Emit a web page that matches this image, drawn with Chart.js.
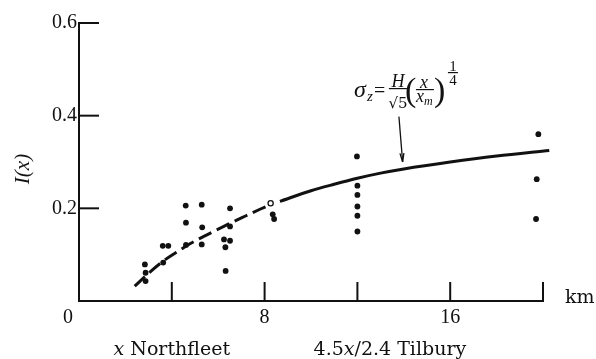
<!DOCTYPE html>
<html>
<head>
<meta charset="utf-8">
<script src="https://cdn.jsdelivr.net/npm/chart.js@4.4.1/dist/chart.umd.min.js"></script>
<style>
  body { margin: 0; background: #fff; }
  #wrap { width: 596px; height: 359px; }
</style>
</head>
<body>
<div id="wrap"><canvas id="chart"></canvas></div>
<script>
// measured values: distance x (km), I(x)
const pointX = [2.84, 2.87, 2.87, 3.63, 3.61, 3.85, 4.60, 4.61, 4.61, 5.29, 5.31, 5.29, 6.31, 6.25, 6.51, 6.32, 6.51, 6.51, 8.35, 8.41, 11.98, 12.0, 12.0, 12.0, 12.0, 12.0, 19.8, 19.73, 19.7];
const pointY = [0.079, 0.061, 0.043, 0.083, 0.119, 0.119, 0.206, 0.169, 0.121, 0.208, 0.159, 0.122, 0.116, 0.133, 0.130, 0.065, 0.161, 0.200, 0.187, 0.177, 0.312, 0.249, 0.229, 0.204, 0.184, 0.150, 0.360, 0.263, 0.177];
const openX = [8.26];
const openY = [0.211];

// sigma_z curve, dashed part then solid part
const dashX = [2.4, 3.0, 3.6, 4.2, 4.8, 5.4, 6.0, 6.6, 7.2, 7.8, 8.3];
const dashY = [0.032, 0.060, 0.085, 0.105, 0.124, 0.140, 0.155, 0.170, 0.184, 0.198, 0.209];
const solidX = [8.66, 10, 11, 12, 13, 14, 16, 18, 20.27];
const solidY = [0.215, 0.238, 0.252, 0.265, 0.276, 0.285, 0.300, 0.313, 0.325];

// tick labels that are printed
const xTickLabels = [8, 16];
const yTickLabels = [0.2, 0.4, 0.6];

const toXY = (xs, ys) => xs.map((x, i) => ({ x: x, y: ys[i] }));

const serif = '"Liberation Serif", "DejaVu Serif", serif';
const wide = '"DejaVu Serif", serif';

// draws a run of text pieces centred on cx
function drawRuns(ctx, runs, cx, baseY) {
  let total = 0;
  runs.forEach(r => { ctx.font = r[1]; total += ctx.measureText(r[0]).width; });
  let px = cx - total / 2;
  ctx.textAlign = 'left';
  runs.forEach(r => {
    ctx.font = r[1];
    ctx.fillText(r[0], px, baseY);
    px += ctx.measureText(r[0]).width;
  });
}

function line(ctx, x1, y1, x2, y2) {
  ctx.beginPath();
  ctx.moveTo(x1, y1);
  ctx.lineTo(x2, y2);
  ctx.stroke();
}

const decor = {
  id: 'decor',
  afterDraw(chart) {
    const { ctx, scales: { x, y } } = chart;
    ctx.save();
    ctx.strokeStyle = '#111';
    ctx.fillStyle = '#111';

    // ticks point inward
    ctx.lineWidth = 2;
    x.ticks.forEach(t => {
      if (t.value > 0) {
        const px = x.getPixelForValue(t.value);
        line(ctx, px, y.bottom, px, y.bottom - 19);
      }
    });
    y.ticks.forEach(t => {
      if (t.value > 0.01) {
        const py = y.getPixelForValue(t.value);
        line(ctx, x.left, py, x.left + 20, py);
      }
    });

    // origin label sits left of the corner
    ctx.font = '20px ' + serif;
    ctx.textAlign = 'center';
    ctx.textBaseline = 'middle';
    ctx.fillText('0', x.getPixelForValue(0) - 11, y.bottom + 17);

    ctx.textBaseline = 'alphabetic';
    ctx.font = '19px ' + wide;
    ctx.textAlign = 'left';
    ctx.fillText('km', x.right + 22, y.bottom + 2);

    // labels under the axis
    drawRuns(ctx, [['x', 'italic 19px ' + wide], [' Northfleet', '19px ' + wide]], x.getPixelForValue(4), 355);
    drawRuns(ctx, [['4.5', '19px ' + wide], ['x', 'italic 19px ' + wide], ['/2.4 Tilbury', '19px ' + wide]], x.getPixelForValue(13.4), 355);

    // y axis title
    ctx.save();
    ctx.translate(23, 169);
    ctx.rotate(-Math.PI / 2);
    ctx.font = 'italic 21px ' + serif;
    ctx.textAlign = 'center';
    ctx.textBaseline = 'middle';
    ctx.fillText('I(x)', 0, 0);
    ctx.restore();

    // arrow pointing at the curve
    const ax = x.getPixelForValue(13.79), ay = y.getPixelForValue(0.398);
    const bx = x.getPixelForValue(13.95), by = y.getPixelForValue(0.300);
    ctx.lineWidth = 1.3;
    line(ctx, ax, ay, bx, by);
    const ang = Math.atan2(by - ay, bx - ax);
    ctx.beginPath();
    ctx.moveTo(bx, by);
    ctx.lineTo(bx - 9 * Math.cos(ang - 0.22), by - 9 * Math.sin(ang - 0.22));
    ctx.moveTo(bx, by);
    ctx.lineTo(bx - 9 * Math.cos(ang + 0.22), by - 9 * Math.sin(ang + 0.22));
    ctx.stroke();

    // formula above the arrow
    const t = (s, dx, dy, font, align) => {
      ctx.font = font;
      ctx.textAlign = align || 'left';
      ctx.fillText(s, ax + dx, ay + dy);
    };
    t('\u03C3', -45, -20, 'italic 24px ' + serif);
    t('z', -32, -16, 'italic 15px ' + serif);
    t('=', -25, -20, '20px ' + serif);
    t('H', -1, -30, 'italic 18px ' + serif, 'center');
    ctx.lineWidth = 1.2;
    line(ctx, ax - 10, ay - 28, ax + 8, ay - 28);
    t('\u221A5', -1, -9, '15px ' + wide, 'center');
    t('(', 6, -16, '34px ' + serif);
    t('x', 25, -29, 'italic 18px ' + serif, 'center');
    line(ctx, ax + 17, ay - 27, ax + 35, ay - 27);
    t('x', 17, -15, 'italic 18px ' + serif);
    t('m', 25, -12, 'italic 12px ' + serif);
    t(')', 35, -16, '34px ' + serif);
    t('1', 54, -46, '15px ' + serif, 'center');
    line(ctx, ax + 49, ay - 44, ax + 59, ay - 44);
    t('4', 54, -32, '15px ' + serif, 'center');

    ctx.restore();
  }
};

const curveStyle = {
  showLine: true,
  pointRadius: 0,
  borderColor: '#111',
  borderWidth: 3,
  cubicInterpolationMode: 'monotone',
  clip: false
};

new Chart(document.getElementById('chart'), {
  type: 'scatter',
  data: {
    datasets: [
      {
        data: toXY(pointX, pointY),
        pointRadius: 2.9,
        pointBackgroundColor: '#111',
        pointBorderColor: '#111',
        pointBorderWidth: 0
      },
      {
        data: toXY(openX, openY),
        pointRadius: 2.6,
        pointBackgroundColor: '#fff',
        pointBorderColor: '#111',
        pointBorderWidth: 1.3
      },
      Object.assign({ data: toXY(dashX, dashY), borderDash: [14, 6] }, curveStyle),
      Object.assign({ data: toXY(solidX, solidY) }, curveStyle)
    ]
  },
  options: {
    responsive: true,
    maintainAspectRatio: false,
    animation: false,
    layout: { padding: { top: 23, right: 53, left: 0, bottom: 0 } },
    plugins: { legend: { display: false }, tooltip: { enabled: false } },
    scales: {
      x: {
        type: 'linear',
        min: 0,
        max: 20,
        afterFit: s => { s.height = 58; },
        grid: { display: false, drawTicks: false },
        border: { display: true, color: '#111', width: 2 },
        ticks: {
          stepSize: 4,
          padding: 5,
          color: '#111',
          font: { family: serif, size: 20 },
          callback: v => xTickLabels.includes(v) ? String(v) : ''
        }
      },
      y: {
        min: 0,
        max: 0.6,
        afterFit: s => { s.width = 79; },
        grid: { display: false, drawTicks: false },
        border: { display: true, color: '#111', width: 2 },
        ticks: {
          stepSize: 0.2,
          padding: 2,
          color: '#111',
          font: { family: serif, size: 20 },
          callback: v => yTickLabels.some(l => Math.abs(l - v) < 1e-6) ? v.toFixed(1) : ''
        }
      }
    }
  },
  plugins: [decor]
});
</script>
</body>
</html>
